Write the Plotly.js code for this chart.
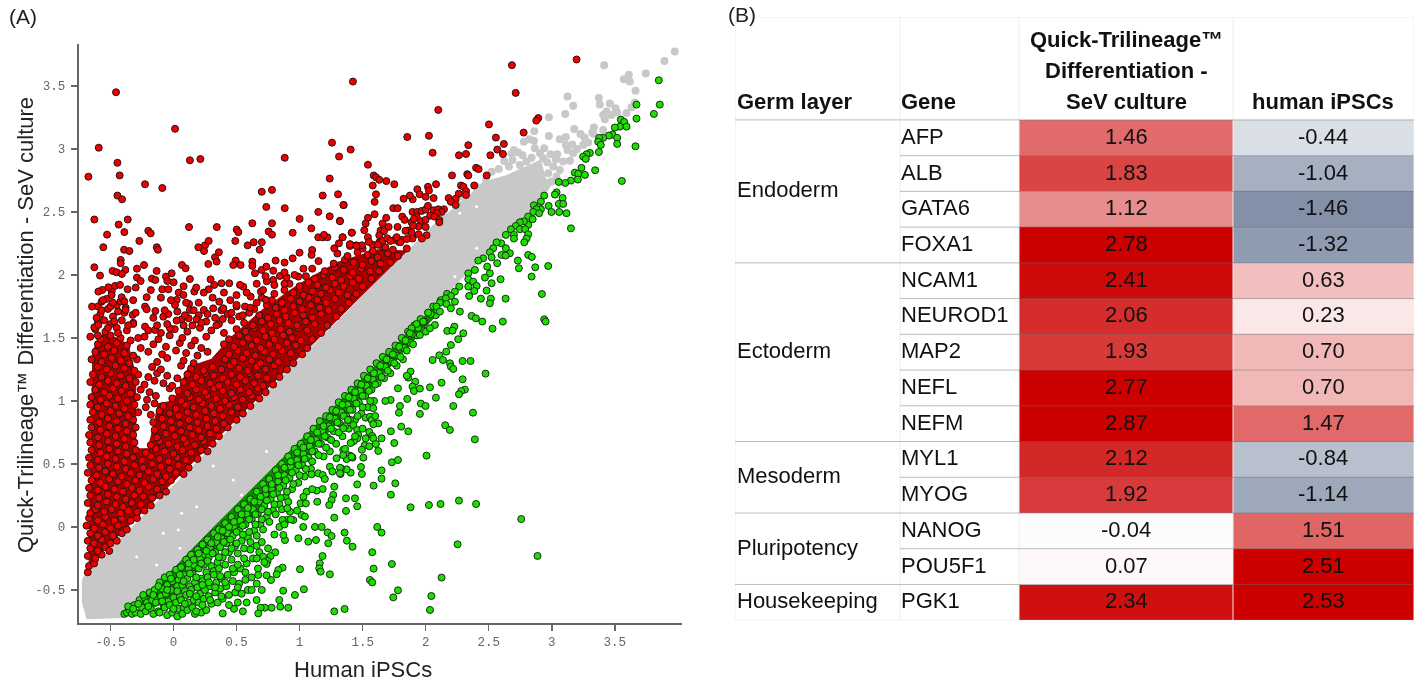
<!DOCTYPE html>
<html><head><meta charset="utf-8">
<script src="https://cdn.plot.ly/plotly-3.0.1.min.js"></script>
<style>html,body{margin:0;padding:0;background:#fff}#chart{width:1418px;height:681px;filter:blur(0.35px)}</style>
</head><body><div id="chart"></div>
<script>
// ---- Panel A: values, as flat x,y pairs ----
const grayOutlineX = [-.715,-.69,1.0,2.14,2.19,2.377,2.456,2.64,2.906,2.945,3.0,2.93,2.5,1.0,-.4,-.68,-.715,-.715];
const grayOutlineY = [-.42,-.38,1.32,2.46,2.49,2.648,2.728,2.78,2.9,2.754,2.74,2.63,2.2,.7,-.71,-.72,-.6,-.42];
const grayPairs = [3.976,3.773,3.894,3.699,3.746,3.598,3.611,3.588,3.572,3.553,3.619,3.535,3.416,3.664,3.664,3.461,3.125,3.416,3.374,3.405,3.17,3.342,3.381,3.352,3.461,3.36,3.659,3.368,3.633,3.331,3.593,3.286,3.506,3.323,3.519,3.289,3.434,3.297,3.408,3.27,3.474,3.27,3.421,3.236,3.107,3.278,2.977,3.252,2.861,3.14,2.977,3.103,3.178,3.159,3.334,3.17,3.321,3.13,3.408,3.151,3.064,3.077,3.112,3.095,3.228,3.119,3.289,3.051,3.249,3.032,3.162,3.035,3.112,3.032,3.125,2.992,3.17,2.966,2.821,3.077,2.779,3.058,2.858,3.066,2.866,3.005,2.94,3.005,2.7,2.992,2.734,2.971,2.681,2.961,2.768,2.95,2.906,2.966,2.99,2.958,3.043,2.958,2.932,2.926,3.033,2.918,3.144,2.907,2.964,2.894,2.623,2.905,2.689,2.913,2.66,2.86,2.747,2.873,2.523,2.82,3.012,2.86,3.064,2.833,2.972,2.807,3.038,2.781,2.998,2.741,2.959,2.714,3.26,3.09,3.2,3.0,3.33,3.12,3.09,2.9,2.58,2.84,2.8,2.9,2.84,2.93,2.48,2.76,2.4,2.7,2.3,2.62,2.25,2.57];
const gapPairs = [.738,.598,.315,.484,.474,.373,.54,.254,.064,.108,.038,-.024,-.081,-.051,.051,-.17,-.292,-.236,-.134,-.302,.183,.161,2.271,2.49,2.404,2.543,2.549,2.278,2.404,2.212,2.232,1.987];
const redCoreX = [-.67,1.85,1.62,1.3,1.0,.7,.45,.3,.12,0,-.12,-.2,-.3,-.3,-.36,-.55,-.64,-.67];
const redCoreY = [-.3,2.19,2.2,2.1,1.93,1.72,1.5,1.33,1.27,1.0,.98,.62,.62,1.2,1.45,1.55,1.4,-.3];
const greenCoreX = [-.3,-.05,.3,.7,1.2,1.7,2.1,2.1,1.7,1.2,.85,.55,.2,-.05,-.2];
const greenCoreY = [-.64,-.38,-.02,.38,.88,1.38,1.78,1.7,1.25,.72,.34,.0,-.34,-.58,-.66];
const redSparse = [-.456,3.45,-.593,3.01,.012,3.16,.13,2.91,.213,2.92,-.675,2.78,-.445,2.89,-.427,2.79,-.445,2.63,-.408,2.6,-.226,2.72,-.089,2.69,-.628,2.44,-.363,2.44,-.435,2.4,-.39,2.34,-.527,2.32,-.557,2.22,-.392,2.2,-.35,2.19,-.271,2.27,-.2,2.35,-.181,2.33,-.133,2.22,-.124,2.2,.123,2.38,.343,2.38,.197,2.22,.25,2.235,.242,2.19,.279,2.27,.501,2.36,.514,2.34,.49,2.27,.588,2.235,.625,2.41,.636,2.26,.7,2.26,.683,2.2,.7,2.66,.781,2.675,.736,2.54,.882,2.53,.882,2.93,.781,2.41,.755,2.345,.781,2.32,.945,2.335,1.0,2.445,1.093,2.37,1.148,2.5,1.183,2.63,1.257,3.05,1.405,2.995,1.313,2.94,1.239,2.765,1.305,2.64,1.35,2.555,1.239,2.465,1.32,2.43,1.423,3.535,1.413,2.335,2.1,3.31,2.684,3.665,2.714,3.445,3.197,3.71,2.893,3.245,2.877,3.225,2.502,3.195,2.777,3.13,1.854,3.095,2.026,3.105,2.557,3.09,2.62,3.04,2.338,3.03,2.568,2.995,2.055,2.97,2.264,2.95,2.32,2.96,2.513,2.95,2.613,2.96,1.542,2.875,2.4,2.85,2.42,2.84,2.209,2.79,2.33,2.8,2.338,2.79,2.484,2.79,1.588,2.79,1.606,2.775,1.632,2.755,1.688,2.745,1.751,2.72,1.58,2.71,2.082,2.72,2.018,2.7,1.934,2.68,2.026,2.67,2.28,2.71,2.3,2.7,2.385,2.71,2.32,2.665,2.32,2.635,2.262,2.645,2.182,2.61,2.238,2.605,2.2,2.58,2.238,2.555,1.606,2.64,1.595,2.58,1.825,2.605,1.897,2.6,1.875,2.63,1.952,2.64,2.0,2.62,2.063,2.61,1.347,2.555,1.743,2.53,1.778,2.53,
1.896,2.5,1.933,2.5,1.968,2.508,2.0,2.519,2.018,2.548,2.063,2.513,2.1,2.521,2.145,2.521,2.126,2.5,2.089,2.49,2.036,2.471,2.068,2.463,2.108,2.437,2.108,2.418,1.962,2.426,1.999,2.437,1.928,2.463,1.814,2.463,1.833,2.437,1.888,2.418,1.907,2.445,1.944,2.384,1.859,2.352,1.888,2.336,1.687,2.453,1.658,2.408,1.706,2.381,1.642,2.352,1.669,2.347,1.777,2.381,1.944,2.323,1.896,2.289,2.007,2.315,1.97,2.289,1.812,2.278,1.851,2.286,1.751,2.278,1.788,2.262,1.632,2.315,1.632,2.259,1.658,2.27,1.695,2.291,1.542,2.453,1.524,2.408,1.513,2.355,1.415,2.336,1.542,2.299,1.55,2.262,1.341,2.299,1.402,2.243,1.45,2.235,1.494,2.235,1.595,2.482,1.32,2.426,
-.583,1.995,-.483,2.032,-.451,2.021,-.382,2.04,-.628,2.061,-.419,2.119,-.419,2.093,-.29,2.05,-.234,2.079,-.29,1.979,-.261,1.952,-.171,1.971,-.144,1.96,-.134,2.032,-.06,1.987,-.015,2.013,-.049,1.952,.001,1.942,-.089,1.886,-.041,1.886,.041,1.86,.078,1.841,.067,2.079,.096,2.053,.13,1.968,.165,1.868,.279,1.886,.323,1.921,.294,1.965,.276,2.087,.329,2.14,.342,2.106,.36,2.18,.38,1.934,.442,1.934,.493,2.114,.474,2.079,.532,2.079,.625,2.106,.625,2.072,.646,2.013,.699,2.04,.736,2.066,.81,2.114,.791,2.034,.881,2.098,.945,2.132,1.0,2.177,1.1,2.198,1.095,2.159,1.148,2.299,1.183,2.299,1.22,2.299,1.193,2.318,1.275,2.212,1.341,2.299,1.312,2.251,1.399,2.243,1.452,2.23,
-.646,1.749,-.565,1.881,-.596,1.868,-.517,1.902,-.464,1.913,-.364,1.886,-.409,2.008,-.424,1.921,-.491,1.841,-.411,1.823,-.57,1.788,-.213,1.823,-.226,1.749,-.213,1.728,-.144,1.714,.025,1.802,.012,1.762,.123,1.77,.13,1.722,-.081,1.669,-.041,1.69,-.324,1.683,-.38,1.722,-.628,1.585,-.596,1.603,-.319,1.611,-.226,1.59,-.147,1.563,-.028,1.577,.065,1.648,.025,1.638,.12,1.656,.183,1.648,.241,1.722,.315,1.735,.395,1.735,.363,1.788,.5,1.762,.567,1.749,.612,1.828,.693,1.868,.733,1.802,.553,1.907,.527,1.921,.791,1.96,.844,1.992,.897,1.981,.99,1.987,
-.61,1.66,-.55,1.64,-.47,1.63,-.57,1.72,-.5,1.75,-.44,1.71,-.56,1.8,-.48,1.78,-.39,1.79,-.6,1.52,-.52,1.58,-.44,1.54,-.36,1.6,.08,1.6,-.05,1.61,1.58,2.19,1.68,2.22,1.72,2.27,1.8,2.26,1.62,2.24,1.9,2.39,1.84,2.35,2.0,2.38,1.77,2.3,
-.28,1.5,-.2,1.56,-.13,1.6,-.3,1.7,-.16,1.66,-.07,1.72,.03,1.71,.09,1.68,.16,1.72,.22,1.62,.27,1.69,.34,1.6,.39,1.65,.46,1.7,.55,1.68,.61,1.74,.66,1.78,.71,1.88,.8,1.92,.88,1.93,.74,1.95,.58,1.86,.5,1.84,.45,1.8,.31,1.82,.2,1.78,.24,1.86,.18,1.9,.08,1.91,.1,1.78,-.02,1.8,-.1,1.82,-.18,1.88,-.32,1.8,-.3,1.9,.4,1.86,.66,1.93,.96,2.0,1.03,2.05,.88,2.02,.73,1.99];
const redDense = [-.68,-.36,-.67,-.31,-.63,-.29,-.68,-.23,-.62,-.25,-.57,-.22,-.66,-.17,-.6,-.19,-.54,-.16,-.51,-.19,-.68,-.11,-.63,-.13,-.57,-.1,-.5,-.13,-.45,-.11,-.66,-.05,-.6,-.07,-.54,-.04,-.48,-.07,-.41,-.05,-.69,.01,-.63,-.01,-.56,.02,-.5,-.01,-.44,.01,-.37,-.02,-.67,.07,-.6,.05,-.54,.08,-.47,.05,-.41,.07,-.34,.05,-.29,.07,-.66,.11,-.62,.14,-.55,.12,-.49,.14,-.42,.11,-.36,.13,-.29,.12,-.23,.13,-.68,.19,-.6,.17,-.53,.2,-.46,.18,-.4,.16,-.33,.19,-.26,.18,-.18,.17,-.66,.25,-.59,.23,-.52,.26,-.45,.24,-.38,.22,-.31,.25,-.24,.24,-.17,.23,-.11,.25,-.67,.31,-.6,.29,-.54,.32,-.47,.3,-.4,.28,-.33,.31,-.27,.29,-.2,.32,-.13,.3,-.06,.28,
-.65,.37,-.58,.35,-.51,.38,-.44,.36,-.37,.34,-.3,.37,-.23,.35,-.16,.38,-.09,.36,-.02,.37,-.68,.43,-.61,.41,-.54,.44,-.48,.42,-.41,.4,-.34,.43,-.27,.41,-.2,.44,-.13,.42,-.06,.4,.02,.43,.08,.42,-.66,.49,-.59,.47,-.52,.5,-.45,.48,-.38,.46,-.31,.49,-.24,.47,-.17,.5,-.1,.48,-.03,.46,.04,.49,.12,.47,-.67,.55,-.6,.53,-.53,.56,-.46,.54,-.39,.52,-.32,.55,-.25,.53,-.18,.56,-.11,.54,-.04,.52,.03,.55,.1,.53,.19,.54,-.65,.61,-.58,.59,-.51,.62,-.44,.6,-.37,.58,-.3,.61,-.22,.59,-.14,.62,-.07,.6,0,.58,.07,.61,.14,.59,.22,.61,.27,.6,
-.66,.67,-.59,.65,-.52,.68,-.45,.66,-.38,.64,-.31,.67,-.18,.65,-.11,.68,-.04,.66,.03,.64,.1,.67,.17,.65,.24,.68,.31,.66,-.67,.73,-.6,.71,-.53,.74,-.46,.72,-.39,.7,-.32,.73,-.13,.71,-.06,.74,.01,.72,.08,.7,.15,.73,.22,.71,.29,.74,.36,.72,-.65,.79,-.58,.77,-.51,.8,-.44,.78,-.37,.76,-.3,.79,-.15,.77,-.08,.8,-.01,.78,.06,.76,.13,.79,.2,.77,.27,.8,.34,.78,.43,.79,-.66,.85,-.59,.83,-.52,.86,-.45,.84,-.38,.82,-.32,.85,-.16,.83,-.09,.86,-.02,.84,.05,.82,.12,.85,.19,.83,.26,.86,.33,.84,.4,.82,.5,.85,
-.64,.91,-.57,.89,-.5,.92,-.43,.9,-.36,.88,-.28,.91,-.18,.89,-.11,.92,-.03,.9,.04,.88,.11,.91,.18,.89,.25,.92,.32,.9,.39,.88,.46,.91,.55,.9,-.66,.97,-.6,.95,-.53,.98,-.46,.96,-.39,.94,-.31,.97,-.22,.95,-.15,.98,-.08,.96,.02,.94,.09,.97,.16,.95,.23,.98,.3,.96,.37,.94,.44,.97,.51,.95,.61,.96,-.65,1.03,-.58,1.01,-.51,1.04,-.44,1.02,-.37,1.0,-.29,1.03,-.21,1.01,-.14,1.04,-.01,1.02,.06,1.0,.13,1.03,.2,1.01,.27,1.04,.34,1.02,.41,1.0,.48,1.03,.55,1.01,.62,1.04,.68,1.02,
-.62,1.09,-.55,1.07,-.48,1.1,-.41,1.08,-.34,1.06,-.26,1.09,-.19,1.07,-.03,1.1,.04,1.08,.11,1.06,.18,1.09,.25,1.07,.32,1.1,.39,1.08,.46,1.06,.53,1.09,.6,1.07,.67,1.1,.73,1.07,-.66,1.15,-.59,1.13,-.52,1.16,-.45,1.14,-.38,1.12,-.3,1.15,-.23,1.13,-.15,1.16,-.08,1.14,-.01,1.12,.08,1.15,.15,1.13,.22,1.16,.29,1.14,.36,1.12,.43,1.15,.5,1.13,.57,1.16,.64,1.14,.71,1.12,.79,1.13,-.64,1.21,-.57,1.19,-.5,1.22,-.42,1.2,-.35,1.18,-.28,1.21,-.2,1.19,-.13,1.22,-.05,1.2,.03,1.18,.11,1.21,.18,1.19,.25,1.22,.32,1.2,.39,1.18,.46,1.21,.53,1.19,.6,1.22,.67,1.2,.74,1.18,.84,1.19,
-.6,1.27,-.53,1.25,-.46,1.28,-.39,1.26,-.31,1.24,-.17,1.27,-.1,1.25,.06,1.28,.14,1.26,.24,1.24,.31,1.27,.38,1.25,.45,1.28,.52,1.26,.59,1.24,.66,1.27,.73,1.25,.8,1.28,.9,1.25,-.65,1.33,-.57,1.31,-.49,1.34,-.42,1.32,-.35,1.3,-.29,1.33,-.13,1.31,-.05,1.34,.08,1.32,.16,1.3,.41,1.33,.48,1.31,.55,1.34,.62,1.32,.69,1.3,.76,1.33,.83,1.31,.95,1.3,-.62,1.39,-.55,1.37,-.47,1.4,-.39,1.38,-.32,1.36,-.2,1.39,-.09,1.37,.02,1.4,.1,1.38,.19,1.36,.27,1.39,.44,1.37,.51,1.4,.58,1.38,.65,1.36,.72,1.39,.79,1.37,.86,1.4,.93,1.38,1.02,1.37,
-.6,1.45,-.52,1.43,-.45,1.46,-.37,1.44,-.26,1.42,-.16,1.45,-.06,1.43,.05,1.46,.14,1.44,.22,1.42,.4,1.45,.48,1.43,.55,1.46,.62,1.44,.69,1.42,.76,1.45,.83,1.43,.9,1.46,.97,1.44,1.06,1.42,-.66,1.51,-.58,1.49,-.5,1.52,-.42,1.5,-.34,1.48,-.23,1.51,-.12,1.49,-.03,1.52,.07,1.5,.17,1.48,.26,1.51,.44,1.49,.52,1.52,.59,1.5,.66,1.48,.73,1.51,.8,1.49,.87,1.52,.94,1.5,1.01,1.48,1.1,1.49,-.62,1.57,-.54,1.55,-.45,1.58,-.37,1.56,-.1,1.54,.01,1.57,.11,1.55,.21,1.58,.3,1.56,.4,1.54,.5,1.57,.57,1.55,.64,1.58,.71,1.56,.78,1.54,.85,1.57,.92,1.55,.99,1.58,1.06,1.56,1.17,1.54,
-.6,1.63,-.5,1.61,-.41,1.64,-.32,1.62,.15,1.6,.26,1.63,.36,1.61,.46,1.64,.56,1.62,.63,1.6,.7,1.63,.77,1.61,.84,1.64,.91,1.62,.98,1.6,1.05,1.63,1.12,1.61,1.22,1.6,-.58,1.69,-.48,1.67,-.39,1.7,.2,1.68,.33,1.66,.43,1.69,.52,1.67,.6,1.7,.68,1.68,.75,1.66,.82,1.69,.89,1.67,.96,1.7,1.03,1.68,1.1,1.66,1.17,1.69,1.29,1.67,-.6,1.75,-.52,1.73,-.45,1.76,-.38,1.74,.38,1.72,.5,1.75,.64,1.73,.74,1.76,.81,1.74,.88,1.72,.95,1.75,1.02,1.73,1.09,1.76,1.16,1.74,1.23,1.72,1.33,1.73,
-.53,1.81,-.42,1.79,.7,1.82,.78,1.8,.86,1.78,.93,1.81,1.0,1.79,1.07,1.82,1.14,1.8,1.21,1.78,1.28,1.81,1.39,1.78,-.49,1.87,.8,1.85,.88,1.88,.95,1.86,1.03,1.84,1.1,1.87,1.17,1.85,1.24,1.88,1.31,1.86,1.38,1.84,1.45,1.85,.92,1.93,1.0,1.91,1.07,1.94,1.14,1.92,1.21,1.9,1.28,1.93,1.35,1.91,1.42,1.94,1.5,1.91,1.05,1.99,1.12,1.97,1.19,2.0,1.26,1.98,1.33,1.96,1.4,1.99,1.47,1.97,1.57,1.97,1.1,2.05,1.2,2.03,1.28,2.06,1.35,2.04,1.42,2.02,1.49,2.05,1.56,2.03,1.63,2.03,1.15,2.11,1.27,2.09,1.36,2.12,1.43,2.1,1.5,2.08,1.57,2.11,1.64,2.09,1.72,2.1,1.3,2.17,1.38,2.15,1.46,2.18,1.54,2.16,1.62,2.14,1.7,2.17,1.78,2.15,1.4,2.23,1.5,2.21,1.58,2.24,1.66,2.22,1.74,2.2,1.85,2.21];
const greenSparse = [2.475,1.217,2.356,1.317,2.293,1.317,2.2,1.444,2.163,1.391,2.108,1.362,2.137,1.325,2.055,1.325,2.192,1.299,2.2,1.272,2.219,1.254,2.293,1.172,2.126,1.145,2.034,1.108,2.311,1.09,2.282,1.079,2.264,1.053,2.081,1.026,1.854,1.016,1.962,.979,1.999,.96,2.219,.96,1.796,.96,1.788,.907,1.954,.897,2.375,.907,2.155,.807,2.192,.77,1.806,.796,1.862,.759,1.724,.759,2.39,.695,1.751,.666,1.65,.703,2.007,.566,1.78,.531,1.732,.513,1.487,.476,1.65,.449,1.494,.42,1.65,.383,1.759,.346,1.457,.338,1.587,.328,1.724,.256,1.368,.227,1.439,.227,1.457,.164,1.88,.156,2.026,.174,2.118,.182,2.264,.209,2.4,.182,1.368,.127,2.758,.063,1.616,0,1.65,-.045,1.357,-.045,1.375,-.109,1.42,-.157,2.253,-.138,1.576,-.201,2.887,-.23,1.732,-.294,1.587,-.331,2.126,-.402,1.558,-.421,1.576,-.44,1.78,-.503,1.743,-.559,2.045,-.548,1.357,-.651,2.034,-.659,
1.426,.809,1.457,.77,1.465,.73,1.457,.703,1.553,.754,1.576,.722,1.584,.703,1.524,.703,1.431,.682,1.405,.666,1.516,.648,1.553,.64,1.605,.658,1.624,.603,1.494,.613,1.505,.55,1.42,.55,1.4,.566,1.368,.576,1.346,.611,1.373,.539,1.405,.431,1.373,.457,1.328,.465,1.325,.42,1.88,1.233,1.862,1.185,1.917,1.153,1.896,1.114,1.907,1.079,1.954,1.098,1.722,1.008,1.584,.942,1.524,.867,1.558,.875,1.571,.849,1.624,.822,1.584,.815,1.346,.783,1.383,.849,
3.849,3.545,3.672,3.352,3.857,3.352,3.81,3.278,3.672,3.241,3.664,3.021,3.556,2.746,3.548,3.233,3.574,3.215,3.54,3.177,3.593,3.177,3.5,3.17,3.482,3.114,3.453,3.106,3.408,3.088,3.376,3.088,3.519,3.088,3.519,3.04,3.368,3.058,3.389,3.032,3.374,2.976,3.302,2.968,3.276,2.958,3.249,2.939,3.27,2.921,3.344,2.831,3.236,2.85,3.183,2.812,3.21,2.802,3.263,2.794,3.207,2.757,3.152,2.749,3.107,2.73,3.056,2.738,2.94,2.63,3.038,2.656,3.025,2.638,3.086,2.611,3.056,2.564,3.091,2.564,2.975,2.548,2.998,2.5,3.059,2.5,3.117,2.49,3.152,2.37,2.914,2.582,2.858,2.553,2.898,2.537,2.914,2.521,2.879,2.521,2.853,2.5,2.9,2.49,2.813,2.463,2.848,2.442,2.813,2.397,2.779,2.426,2.747,2.418,2.715,2.389,2.676,2.363,2.747,2.363,2.789,2.363,2.813,2.323,2.7,2.318,2.636,2.318,2.7,2.289,2.8,2.289,2.782,2.259,2.599,2.251,2.562,2.259,2.636,2.212,2.536,2.212,2.509,2.18,2.668,2.172,2.602,2.159,2.634,2.154,2.813,2.159,2.842,2.143,2.731,2.114,2.523,2.14,2.456,2.132,2.417,2.114,2.567,2.093,2.488,2.066,2.39,2.04,2.338,2.013,2.869,2.061,2.972,2.071,2.739,2.053,2.84,1.987,2.594,1.966,2.509,2.013,2.523,1.934,2.338,1.966,2.377,1.947,2.47,1.979,2.404,1.913,2.266,1.908,2.338,1.908,2.232,1.868,2.385,1.873,2.483,1.876,2.922,1.849,2.634,1.812,2.438,1.812,2.517,1.812,2.509,1.775,2.345,1.833,2.2,1.833,2.16,1.815,2.113,1.78,2.232,1.788,2.166,1.77,2.086,1.749,2.2,1.735,2.271,1.709,2.113,1.709,2.02,1.701,2.364,1.675,2.398,1.656,2.449,1.63,2.612,1.63,2.94,1.648,2.951,1.63,2.53,1.574,2.227,1.59,2.073,1.603,1.928,1.611,1.981,1.63,2.034,1.577,2.171,1.556,2.213,1.558,1.888,1.577,2.298,1.537,2.258,1.49,1.875,1.537,1.954,1.524,
1.275,-.67,1.24,-.376,1.16,-.289,1.156,-.329,1.167,-.355,1.182,-.231,1.003,-.336,1.034,-.495,.963,-.54,.87,-.506,.839,-.58,.91,-.641,.847,-.633,.778,-.641,.725,-.641,.691,-.641,.672,-.686,.659,-.58,.39,-.686,.865,-.323,.831,-.342,.818,-.376,.807,-.201,.77,-.231,.712,-.236,.746,-.27,.738,-.294,.672,-.381,.773,-.421,.738,-.384,1.069,-.117,1.13,-.104,1.227,-.13,.99,-.09,.884,-.104,.871,-.064,1.029,0,1.122,0,1.175,0,1.222,-.043,1.254,-.072,1.275,.074,1.275,.32,1.24,.478,1.32,.47,1.183,.301,1.135,.288,1.267,.254,1.254,.214,1.235,.174,1.14,.2,1.008,.187,1.05,.187,1.016,.095,1.042,.082,.95,.055,.897,.055,.865,.055,.924,.121,.902,.148,1.056,.28,1.095,.418,1.148,.426,1.183,.412,1.32,.426,1.412,.558,1.346,.571,1.293,.545,
.62,-.5,.58,-.6,.51,-.6,.48,-.65,.44,-.62,.55,-.67,.66,-.45,.7,-.5,.7,-.12,.75,-.17,.72,-.28,.66,-.25,.8,-.06,.84,0,.88,.02,.93,.06,.98,.13,1.03,.24,1.1,.3,1.2,.38,1.26,.44,1.36,.62,1.44,.72,1.5,.78,1.6,.88,1.68,1.0,1.78,1.1,1.85,1.2];
const greenDense = [-.39,-.69,-.37,-.68,-.35,-.66,-.33,-.69,-.31,-.62,-.3,-.68,-.27,-.58,-.25,-.64,-.26,-.69,-.23,-.56,-.21,-.6,-.22,-.67,-.19,-.52,-.17,-.58,-.18,-.65,-.16,-.69,-.15,-.5,-.13,-.56,-.14,-.6,-.12,-.67,-.11,-.44,-.09,-.49,-.1,-.55,-.08,-.62,-.11,-.68,-.07,-.4,-.05,-.46,-.06,-.53,-.04,-.59,-.07,-.64,-.05,-.7,-.03,-.38,-.01,-.43,-.02,-.5,0,-.56,-.03,-.62,-.01,-.68,.02,-.34,.04,-.42,.03,-.47,.05,-.55,.02,-.6,.04,-.65,.03,-.71,.06,-.32,.08,-.38,.07,-.46,.09,-.51,.06,-.58,.08,-.64,.07,-.69,
.1,-.26,.12,-.33,.11,-.41,.13,-.47,.1,-.54,.12,-.6,.11,-.66,.14,-.22,.16,-.3,.15,-.37,.17,-.44,.14,-.5,.16,-.58,.15,-.64,.17,-.69,.19,-.18,.21,-.25,.2,-.33,.22,-.41,.19,-.48,.21,-.53,.2,-.6,.22,-.68,.23,-.14,.25,-.22,.24,-.3,.26,-.36,.23,-.43,.25,-.5,.24,-.57,.26,-.66,.27,-.1,.29,-.16,.28,-.24,.3,-.31,.27,-.4,.29,-.47,.28,-.55,.3,-.61,.32,-.05,.34,-.12,.33,-.2,.35,-.28,.32,-.35,.34,-.44,.33,-.52,.35,-.6,.36,-.02,.38,-.09,.37,-.16,.39,-.24,.36,-.33,.38,-.41,.37,-.49,.39,-.57,.41,.03,.43,-.05,.42,-.13,.44,-.2,.41,-.3,.43,-.38,.42,-.47,.44,-.54,
.46,.08,.48,0,.47,-.07,.49,-.15,.46,-.26,.48,-.36,.47,-.43,.49,-.52,.51,.14,.53,.05,.52,-.03,.54,-.11,.51,-.21,.53,-.33,.52,-.45,.54,-.53,.56,.18,.58,.1,.57,.02,.59,-.08,.56,-.17,.58,-.29,.57,-.42,.59,-.5,.61,.22,.63,.14,.62,.06,.64,-.03,.61,-.12,.63,-.25,.62,-.4,.66,.28,.68,.2,.67,.11,.69,.02,.66,-.07,.68,-.2,.67,-.33,.71,.34,.73,.26,.72,.17,.74,.08,.71,-.02,.76,.38,.78,.3,.77,.22,.79,.13,.76,.04,.81,.45,.83,.36,.82,.27,.84,.18,.81,.1,.86,.5,.88,.41,.87,.33,.89,.24,.86,.14,.91,.56,.93,.48,.92,.39,.94,.3,.91,.2,
.96,.62,.98,.53,.97,.45,.99,.35,1.01,.66,1.03,.58,1.02,.49,1.04,.4,1.06,.72,1.08,.64,1.07,.55,1.09,.46,1.11,.78,1.13,.69,1.12,.6,1.16,.84,1.18,.76,1.17,.66,1.19,.56,1.21,.88,1.23,.8,1.22,.71,1.24,.6,1.26,.93,1.28,.86,1.27,.76,1.29,.66,1.31,.99,1.33,.91,1.32,.82,1.34,.72,1.36,1.04,1.38,.97,1.37,.88,1.39,.78,1.41,1.09,1.43,1.02,1.42,.93,1.44,.85,1.46,1.14,1.48,1.08,1.47,.99,1.49,.9,1.51,1.2,1.53,1.12,1.52,1.04,1.54,.95,1.56,1.25,1.58,1.17,1.57,1.09,1.59,1.0,1.61,1.3,1.63,1.22,1.62,1.14,1.66,1.35,1.68,1.27,1.67,1.18,1.71,1.39,1.73,1.31,1.72,1.22,1.76,1.44,1.78,1.36,1.77,1.28,1.81,1.5,1.83,1.42,1.82,1.33,1.86,1.55,1.88,1.46,1.91,1.6,1.93,1.52,1.96,1.65,1.98,1.56,2.02,1.7,2.06,1.75,2.08,1.68,2.12,1.8,2.17,1.85,
-.36,-.63,-.32,-.65,-.28,-.61,-.24,-.54,-.2,-.63,-.16,-.54,-.12,-.47,-.09,-.59,-.05,-.5,-.02,-.41,0,-.65,.03,-.51,.05,-.38,.08,-.43,.09,-.61,.12,-.29,.13,-.37,.13,-.53,.16,-.26,.18,-.4,.18,-.55,.18,-.67,.2,-.21,.22,-.29,.23,-.46,.23,-.62,.26,-.19,.27,-.27,.28,-.44,.29,-.58,.3,-.13,.31,-.21,.32,-.38,.33,-.48,.35,-.08,.36,-.24,.37,-.39,.38,-.55,.39,-.03,.4,-.12,.41,-.2,.41,-.44,.44,0,.45,-.1,.46,-.17,.47,-.33,.48,.04,.5,-.04,.5,-.13,.51,-.3,.51,-.48,.54,.1,.55,.01,.55,-.06,.56,-.25,.57,-.36,.59,.15,.6,.06,.6,-.04,.61,-.18,.64,.2,.65,.1,.65,.02,.66,-.15,.69,.24,.7,.14,.7,.06,.73,.3,.74,.21,.75,.12,.78,.34,.79,.26,.8,.18,.83,.41,.84,.31,.85,.23,.88,.47,.89,.37,.9,.28,.93,.52,.94,.43,.95,.34,.98,.59,.99,.49,1.0,.41,1.03,.63,1.04,.54,1.05,.46,1.09,.69,1.1,.6,1.1,.52,1.14,.75,1.15,.66,1.15,.57,1.19,.8,1.2,.72,1.21,.63,1.24,.87,1.25,.78,1.25,.69,1.29,.92,1.3,.83,1.31,.75,1.34,.97,1.35,.88,1.36,.8,1.39,1.03,1.4,.93,1.4,.85,1.44,1.07,1.45,.98,1.46,.88,1.49,1.13,1.5,1.04,1.5,.95,1.54,1.18,1.55,1.08,1.56,1.0,1.59,1.22,1.6,1.13,1.64,1.28,1.65,1.19,1.69,1.33,1.7,1.24,1.74,1.37,1.75,1.3,1.79,1.43,1.8,1.35,1.84,1.48,1.85,1.4,1.89,1.53,1.9,1.45,1.94,1.58,1.99,1.63,2.0,1.55,2.04,1.69,2.09,1.72];
const xTickVals = [-.5,0,.5,1,1.5,2,2.5,3,3.5];
const xTickText = ['-0.5','0','0.5','1','1.5','2','2.5','3','3.5'];
const yTickVals = [-.5,0,.5,1,1.5,2,2.5,3,3.5];
const yTickText = ['-0.5','0','0.5','1','1.5','2','2.5','3','3.5'];
const xLabel = 'Human iPSCs';
const yLabel = 'Quick-Trilineage™ Differentiation - SeV culture';

// ---- Panel B ----
const germLayers = ['Endoderm','Ectoderm','Mesoderm','Pluripotency','Housekeeping'];
const germCounts = [4,5,2,2,1];
const genes = ['AFP','ALB','GATA6','FOXA1','NCAM1','NEUROD1','MAP2','NEFL','NEFM','MYL1','MYOG','NANOG','POU5F1','PGK1'];
const sevValues = [1.46,1.83,1.12,2.78,2.41,2.06,1.93,2.77,2.87,2.12,1.92,-0.04,0.07,2.34];
const ipscValues = [-0.44,-1.04,-1.46,-1.32,0.63,0.23,0.70,0.70,1.47,-0.84,-1.14,1.51,2.51,2.53];

const W=1418,H=681;
const evens=a=>a.filter((_,i)=>i%2===0), odds=a=>a.filter((_,i)=>i%2===1);
const redAll=redDense.concat(redSparse), greenAll=greenDense.concat(greenSparse);
const traces=[
 {type:'scatter',mode:'lines',x:grayOutlineX,y:grayOutlineY,fill:'toself',fillcolor:'#c8c8c8',line:{color:'#c8c8c8',width:3},hoverinfo:'skip',showlegend:false},
 {type:'scatter',mode:'markers',x:evens(grayPairs),y:odds(grayPairs),marker:{size:8,color:'#c8c8c8'},showlegend:false},
 {type:'scatter',mode:'markers',x:evens(gapPairs),y:odds(gapPairs),marker:{size:3,color:'#ffffff'},hoverinfo:'skip',showlegend:false},
 {type:'scatter',mode:'lines',x:redCoreX,y:redCoreY,fill:'toself',fillcolor:'#a80000',line:{color:'#a80000',width:1},hoverinfo:'skip',showlegend:false},
 {type:'scatter',mode:'lines',x:greenCoreX,y:greenCoreY,fill:'toself',fillcolor:'#108a00',line:{color:'#108a00',width:1},hoverinfo:'skip',showlegend:false},
 {type:'scatter',mode:'markers',x:evens(redAll),y:odds(redAll),marker:{size:7,color:'#ee0000',line:{color:'#2a1010',width:1}},showlegend:false},
 {type:'scatter',mode:'markers',x:evens(greenAll),y:odds(greenAll),marker:{size:7,color:'#1ede00',line:{color:'#123012',width:1}},showlegend:false},
 {type:'heatmap',xaxis:'x2',yaxis:'y2',x:[284,498,679],y:genes.map((_,i)=>i).concat([genes.length]),
  z:genes.map((_,i)=>[sevValues[i],ipscValues[i]]),zmin:-2.5,zmax:2.5,showscale:false,
  colorscale:[[0,'#2b4169'],[.5,'#ffffff'],[1,'#cc0000']],hoverinfo:'z'}
];
const TF='Liberation Sans';
const anns=[],shapes=[];
const note=(text,x,y,opt)=>anns.push(Object.assign({text,x,y,xref:'x2',yref:'y2',showarrow:false,xanchor:'left',yanchor:'middle',yshift:1.5,font:{family:TF,size:22,color:'#111'}},opt||{}));
const bold=(s)=>'<b>'+s+'</b>';
note(bold('Germ layer'),0,-0.5,{yshift:.5});
note(bold('Gene'),164,-0.5,{yshift:.5});
note(bold('Quick-Trilineage™'),391,-2.24,{xanchor:'center',yshift:.5});
note(bold('Differentiation -'),391,-1.37,{xanchor:'center',yshift:.5});
note(bold('SeV culture'),391,-0.5,{xanchor:'center',yshift:.5});
note(bold('human iPSCs'),588,-0.5,{xanchor:'center',yshift:.5});
genes.forEach((g,i)=>{
 note(g,164,i+.5);
 note(sevValues[i].toFixed(2),391,i+.5,{xanchor:'center'});
 note(ipscValues[i].toFixed(2),588,i+.5,{xanchor:'center'});
});
const line=(x0,x1,y0,y1,color)=>shapes.push({type:'line',xref:'x2',yref:'y2',x0,x1,y0,y1,layer:'above',line:{color,width:1}});
[0,165,284,498,679].forEach(x=>line(x,x,-2.88,genes.length,'#ececec'));
line(0,679,-2.88,-2.88,'#ececec');
const groupEdges=new Set([0]);let acc=0;
germCounts.forEach((c,k)=>{note(germLayers[k],0,acc+c/2);acc+=c;groupEdges.add(acc);});
for(let i=0;i<=genes.length;i++){
 const g=groupEdges.has(i);
 line(g?0:165,679,i,i,i===genes.length?'rgba(120,120,120,.2)':'rgba(110,110,110,.45)');
}
const paperNote=(text,px,py,opt)=>anns.push(Object.assign({text,x:px/W,y:1-py/H,xref:'paper',yref:'paper',showarrow:false,xanchor:'center',yanchor:'middle',font:{family:TF,size:22,color:'#222'}},opt||{}));
paperNote('(A)',23,17,{font:{family:TF,size:21,color:'#222'}});
paperNote('(B)',742,15,{font:{family:TF,size:21,color:'#222'}});
paperNote(xLabel,363,669);
paperNote(yLabel,26,325,{textangle:-90});

const axisStyle={showgrid:false,zeroline:false,showline:true,linecolor:'#666',linewidth:2,ticks:'outside',ticklen:6,tickcolor:'#666',tickwidth:1.5,tickmode:'array',
 tickfont:{family:'Liberation Mono',size:12.5,color:'#666'}};
const layout={width:W,height:H,margin:{l:0,r:0,t:0,b:0},paper_bgcolor:'#fff',plot_bgcolor:'rgba(0,0,0,0)',showlegend:false,font:{family:TF},
 xaxis:Object.assign({},axisStyle,{domain:[78.7/W,682/W],range:[-.752,4.033],tickvals:xTickVals,ticktext:xTickText,anchor:'y'}),
 yaxis:Object.assign({},axisStyle,{domain:[1-622.7/H,1-44/H],range:[-.76,3.833],tickvals:yTickVals,ticktext:yTickText,anchor:'x',ticklabelstandoff:3}),
 xaxis2:{domain:[735/W,1414/W],range:[0,679],visible:false,anchor:'y2',fixedrange:true},
 yaxis2:{domain:[1-620.2/H,1-17/H],range:[14,-2.88],visible:false,anchor:'x2',fixedrange:true},
 annotations:anns,shapes:shapes};
Plotly.newPlot('chart',traces,layout,{displayModeBar:false,staticPlot:true});
</script></body></html>
